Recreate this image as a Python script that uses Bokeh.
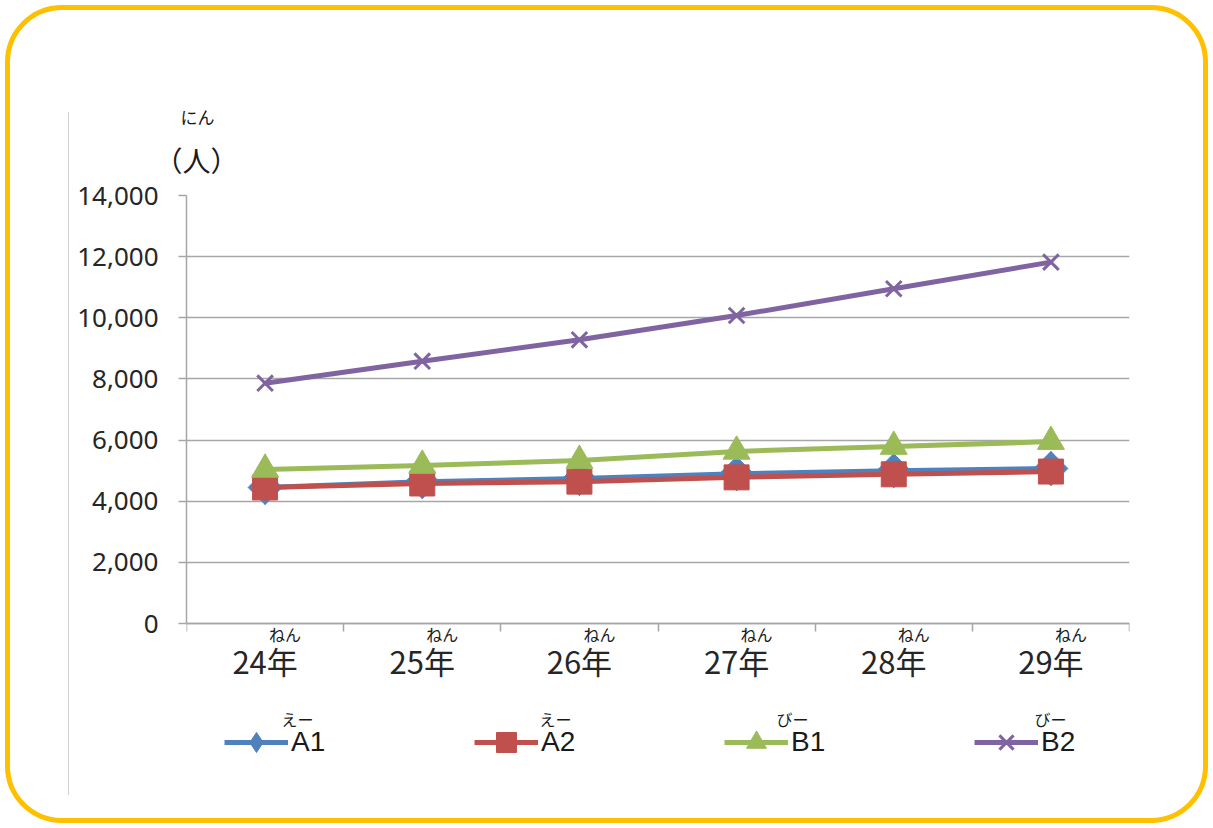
import math
from bokeh.plotting import figure
from bokeh.models import (Range1d, FixedTicker, NumeralTickFormatter, Legend, LegendItem,
                          LinearAxis, Title, Label)
from bokeh.embed import file_html
from bokeh.resources import INLINE

W, H = 1213, 828

years = ["24年", "25年", "26年", "27年", "28年", "29年"]
year_ruby = "ねん"
series_names = ["A1", "A2", "B1", "B2"]
series_ruby = ["えー", "えー", "びー", "びー"]
a1 = [4450, 4640, 4740, 4900, 5000, 5070]
a2 = [4450, 4580, 4640, 4780, 4880, 4970]
b1 = [5040, 5170, 5330, 5630, 5790, 5950]
b2 = [7860, 8580, 9280, 10075, 10950, 11820]
y_ticks = [0, 2000, 4000, 6000, 8000, 10000, 12000, 14000]
unit_label = "（人）"
unit_ruby = "にん"

colors = ["#4F81BD", "#C0504D", "#9BBB59", "#8064A2"]
GRID = "#a6a6a6"
TXT = "#1a1a1a"
JP = "Noto Sans CJK JP"

xs = [i + 0.5 for i in range(len(years))]
bounds = list(range(len(years) + 1))

# layout constants (pixels)
FL, FR, FT = 186, 1129, 195      # frame left/right/top
ZERO = 623                       # pixel row of y = 0
FBOT = 788                       # frame bottom (legend lives inside the frame)
px_per_cat = (FR - FL) / len(years)
data_per_px = max(y_ticks) / (ZERO - FT)


def x_of_px(px):
    return (px - FL) / px_per_cat


def y_of_px(py):
    return (ZERO - py) * data_per_px


p = figure(frame_width=FR - FL, frame_height=FBOT - FT,
           output_backend="svg", toolbar_location=None,
           x_range=Range1d(0, len(years)),
           y_range=Range1d(y_of_px(FBOT), max(y_ticks)),
           min_border_left=FL, min_border_right=W - FR, min_border_top=FT,
           min_border_bottom=H - FBOT)
p.outline_line_color = None
p.background_fill_color = "white"
p.border_fill_alpha = 0
p.styles = {
    "outline": "5px solid #FFC000",
    "outline-offset": "-10px",
    "border-radius": "62px",
    "background": "linear-gradient(#d0d0d0, #d0d0d0) 68px 112px / 1px 683px no-repeat, #ffffff",
}

# primary x axis at y = 0: axis line, category boundary ticks, ruby "ねん"
ruby_dx = x_of_px(FL + 20)
ax = p.xaxis[0]
ax.fixed_location = 0
ax.ticker = FixedTicker(ticks=[x + ruby_dx for x in xs], minor_ticks=bounds)
ax.major_label_overrides = {x + ruby_dx: year_ruby for x in xs}
ax.major_tick_in = 0
ax.major_tick_out = 0
ax.minor_tick_in = 0
ax.minor_tick_out = 8
ax.minor_tick_line_color = GRID
ax.minor_tick_line_width = 1.5
ax.axis_line_color = GRID
ax.axis_line_width = 1.5
ax.major_label_standoff = -10
ax.major_label_text_font = JP
ax.major_label_text_font_size = "16px"
ax.major_label_text_color = TXT

# year labels
ax_year = LinearAxis(fixed_location=y_of_px(680),
                     ticker=FixedTicker(ticks=xs, minor_ticks=[]),
                     major_label_overrides={x: y for x, y in zip(xs, years)},
                     axis_line_color=None, major_tick_line_color=None,
                     minor_tick_line_color=None, major_tick_in=0, major_tick_out=0,
                     major_label_standoff=-43,
                     major_label_text_font=JP, major_label_text_font_size="31px",
                     major_label_text_color="#262626")
p.add_layout(ax_year, "below")

# y axis
p.yaxis.bounds = (0, max(y_ticks))
p.yaxis.ticker = FixedTicker(ticks=y_ticks, minor_ticks=[])
p.yaxis.formatter = NumeralTickFormatter(format="0,0")
p.yaxis.major_tick_in = 0
p.yaxis.major_tick_out = 8
p.yaxis.major_tick_line_color = GRID
p.yaxis.major_tick_line_width = 1.5
p.yaxis.axis_line_color = GRID
p.yaxis.axis_line_width = 1.5
p.yaxis.major_label_standoff = 20
p.yaxis.major_label_text_font = "Noto Sans"
p.yaxis.major_label_text_font_size = "26px"
p.yaxis.major_label_text_color = "#262626"

p.xgrid.grid_line_color = None
p.ygrid.grid_line_color = GRID
p.ygrid.grid_line_width = 1.5

# series
items = []
data = [a1, a2, b1, b2]
markers = ["diamond", "square", "triangle", "x"]
sizes = [34, 25, 27, 22]
for name, vals, col, mk, sz in zip(series_names, data, colors, markers, sizes):
    ln = p.line(xs, vals, line_color=col, line_width=5)
    if mk == "x":
        sc = p.scatter(xs, vals, marker=mk, size=sz, line_color=col, line_width=3)
    else:
        sc = p.scatter(xs, vals, marker=mk, size=sz, fill_color=col, line_color=col)
    if mk == "diamond":
        # Excel-style wide diamond (rotated square) drawn over the legend diamond
        p.scatter(xs, vals, marker="square", size=24, angle=math.pi / 4,
                  fill_color=col, line_color=col)
    items.append(LegendItem(label=name, renderers=[ln, sc]))

legend = Legend(items=items, orientation="horizontal", location=(224 - FL, FBOT - 767),
                glyph_width=64, glyph_height=50, label_standoff=3, label_width=50,
                spacing=133, padding=0, margin=0, border_line_color=None,
                background_fill_alpha=0, label_text_font="Liberation Sans",
                label_text_font_size="28px", label_text_color=TXT)
p.add_layout(legend, "center")

# ruby above legend labels
for rx, t in zip([297, 555, 792, 1050], series_ruby):
    p.add_layout(Label(x=x_of_px(rx), y=y_of_px(718), text=t,
                       text_align="center", text_baseline="middle",
                       text_font=JP, text_font_size="16px", text_color=TXT))

# unit label with ruby above the frame
t1 = Title(text=unit_label, align="left", offset=-32, standoff=31,
           text_font=JP, text_font_size="28px", text_font_style="normal",
           text_color=TXT)
t2 = Title(text=unit_ruby, align="left", offset=-6, standoff=-12,
           text_font=JP, text_font_size="17px", text_font_style="normal",
           text_color=TXT)
p.add_layout(t1, "above")
p.add_layout(t2, "above")

open("out.html", "w").write(file_html(p, INLINE))
